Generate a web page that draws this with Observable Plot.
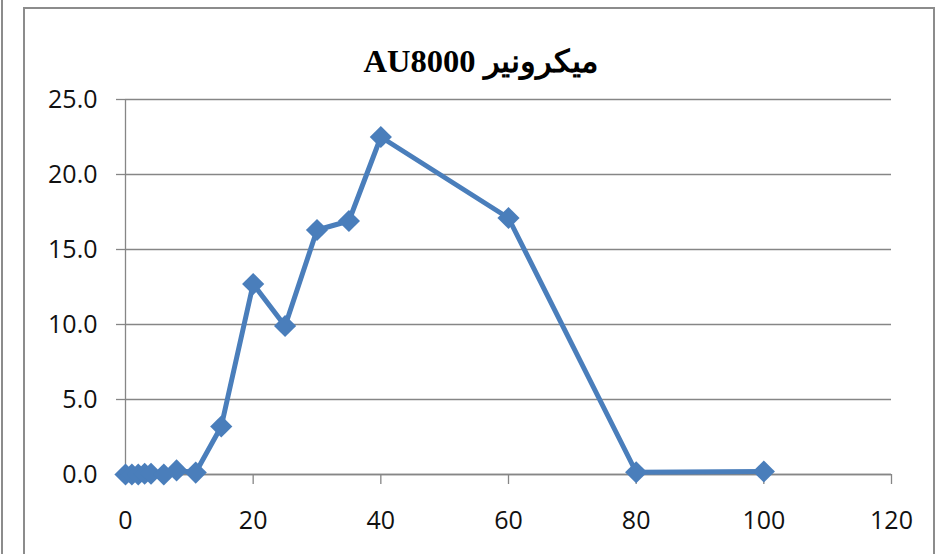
<!DOCTYPE html>
<html>
<head>
<meta charset="utf-8">
<script src="https://cdn.jsdelivr.net/npm/d3@7"></script>
<script src="https://cdn.jsdelivr.net/npm/@observablehq/plot@0.6"></script>
<style>
  html, body { margin: 0; padding: 0; background: #fff; }
  #wrap { position: relative; width: 943px; height: 554px; overflow: hidden; background: #fff; }
  #edge { position: absolute; left: 1px; top: -5px; width: 2px; height: 570px; background: #8c8c8c; }
  #frame { position: absolute; left: 23px; top: 7px; width: 908px; height: 570px; border: 2px solid #8c8c8c; }
  #title { position: absolute; left: 0; width: 962px; top: 43px; text-align: center;
           font-family: "Liberation Serif", "Times New Roman", serif; font-weight: bold; font-size: 31px;
           color: #000; direction: rtl; }
  #title span { display: inline-block; transform: scaleX(1.05); transform-origin: center; }
  #chart { position: absolute; left: 0; top: 0; }
</style>
</head>
<body>
<div id="wrap">
  <div id="edge"></div>
  <div id="frame"></div>
  <div id="chart"></div>
  <div id="title"><span>ميكرونير AU8000</span></div>
</div>
<script>
// Particle size (micron) and percentage values
const sizes    = [0, 1, 2, 3, 4, 6, 8, 11, 15, 20, 25, 30, 35, 40, 60, 80, 100];
const percents = [0.0, 0.0, 0.0, 0.05, 0.05, 0.0, 0.27, 0.13, 3.2, 12.7, 9.9, 16.3, 16.9, 22.5, 17.1, 0.15, 0.2];
const xTicks = [0, 20, 40, 60, 80, 100, 120];
const yTicks = [0, 5, 10, 15, 20, 25];

const data = sizes.map((s, i) => ({size: s, pct: percents[i]}));
const grid = "#868686";
const blue = "#4A7EBB";

const chart = Plot.plot({
  width: 943,
  height: 554,
  marginLeft: 125,
  marginRight: 52,
  marginTop: 99,
  marginBottom: 80,
  style: {fontFamily: "'Open Sans', sans-serif", fontSize: "25px", background: "transparent", color: "#111", overflow: "visible"},
  x: {domain: [0, 120]},
  y: {domain: [0, 25]},
  marks: [
    Plot.gridY(yTicks, {stroke: grid, strokeOpacity: 1, strokeWidth: 1.3}),
    Plot.axisY(yTicks, {tickSize: 9, tickPadding: 19, stroke: grid, strokeWidth: 1.3, tickFormat: d3.format(".1f"), label: null, fontSize: 25, fill: "#111"}),
    Plot.axisX(xTicks, {tickSize: 10, tickPadding: 27, stroke: grid, strokeWidth: 1.3, label: null, fontSize: 25, fill: "#111"}),
    Plot.ruleX([0], {stroke: grid, strokeWidth: 1.3}),
    Plot.ruleY([0], {stroke: grid, strokeWidth: 1.3}),
    Plot.line(data, {x: "size", y: "pct", stroke: blue, strokeWidth: 5, strokeLinejoin: "round"}),
    Plot.dot(data, {x: "size", y: "pct", symbol: "diamond2", r: 10, fill: blue, stroke: "none"})
  ]
});
document.getElementById("chart").appendChild(chart);
</script>
</body>
</html>
